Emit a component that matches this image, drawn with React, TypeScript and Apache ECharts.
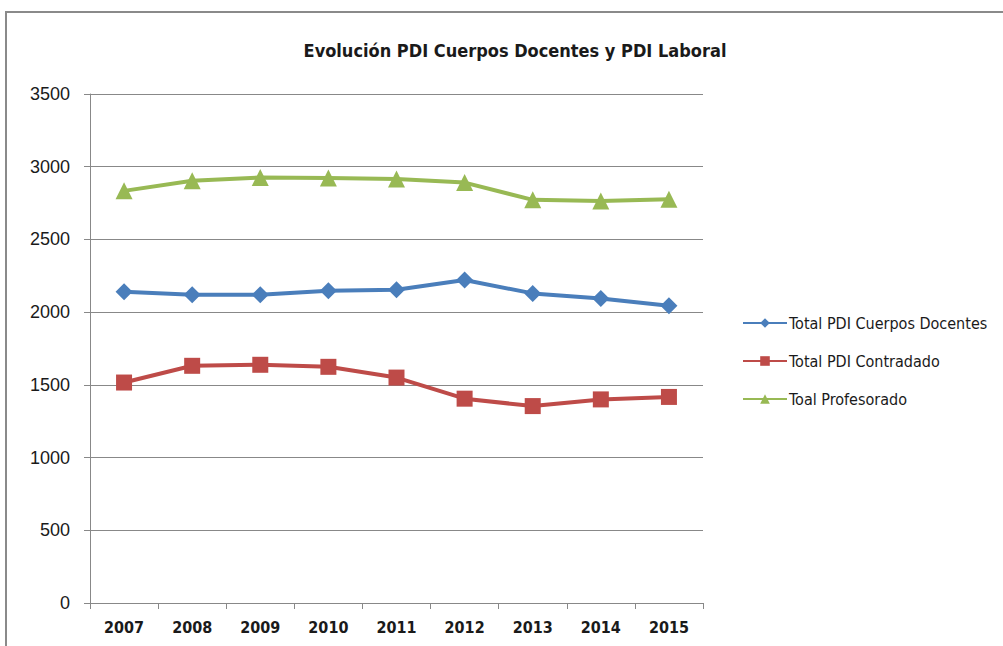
import React, { useEffect, useRef } from "react";
import * as echarts from "echarts";

const years = ["2007", "2008", "2009", "2010", "2011", "2012", "2013", "2014", "2015"];
const cuerposDocentes = [2140, 2120, 2120, 2147, 2154, 2221, 2129, 2094, 2044];
const contratado = [1516, 1631, 1638, 1624, 1550, 1405, 1354, 1400, 1417];
const profesorado = [2834, 2903, 2926, 2922, 2915, 2891, 2772, 2765, 2777];
const yTicks = { min: 0, max: 3500, interval: 500 };

export default function App() {
  const ref = useRef<HTMLDivElement>(null);
  useEffect(() => {
    if (!ref.current) return;
    const chart = echarts.init(ref.current, null, { renderer: "svg" });
    const font = "'Liberation Sans Narrow', 'DejaVu Sans Condensed', 'Liberation Sans', sans-serif";
    chart.setOption({
      animation: false,
      backgroundColor: "#ffffff",
      title: {
        text: "Evolución PDI Cuerpos Docentes y PDI Laboral",
        left: 510,
        textAlign: "center",
        top: 36,
        textStyle: { fontFamily: font, fontSize: 18, fontWeight: "bold", color: "#1a1a1a" },
      },
      graphic: [
        {
          type: "rect",
          shape: { x: 6, y: 12, width: 1100, height: 800 },
          style: { fill: "none", stroke: "#8a8a8a", lineWidth: 2 },
          silent: true,
        },
      ],
      grid: { left: 90, top: 94, width: 613, height: 509 },
      legend: {
        orient: "vertical",
        left: 737,
        top: 310,
        itemWidth: 44,
        itemHeight: 12,
        itemGap: 22,
        textStyle: { fontFamily: font, fontSize: 16, color: "#1a1a1a", padding: [0, 0, 0, -3] },
        data: ["Total PDI Cuerpos Docentes", "Total PDI Contradado", "Toal Profesorado"],
      },
      xAxis: {
        type: "category",
        data: years,
        boundaryGap: true,
        axisLine: { lineStyle: { color: "#888888", width: 1 } },
        axisTick: { show: true, length: 6, lineStyle: { color: "#888888" } },
        axisLabel: { fontFamily: font, fontSize: 16, fontWeight: "bold", color: "#1a1a1a", margin: 16 },
      },
      yAxis: {
        type: "value",
        min: yTicks.min,
        max: yTicks.max,
        interval: yTicks.interval,
        axisLine: { show: true, lineStyle: { color: "#888888", width: 1 } },
        axisTick: { show: true, length: 6, lineStyle: { color: "#888888" } },
        splitLine: { lineStyle: { color: "#888888", width: 1 } },
        axisLabel: {
          fontFamily: "'Liberation Sans', sans-serif",
          fontSize: 18,
          color: "#1a1a1a",
          margin: 20,
          formatter: (v: number) => String(v),
        },
      },
      series: [
        {
          name: "Total PDI Cuerpos Docentes",
          type: "line",
          data: cuerposDocentes,
          symbol: "diamond",
          symbolSize: 17,
          itemStyle: { color: "#4a7ebb" },
          lineStyle: { color: "#4a7ebb", width: 4 },
        },
        {
          name: "Total PDI Contradado",
          type: "line",
          data: contratado,
          symbol: "rect",
          symbolSize: 16,
          itemStyle: { color: "#be4b48" },
          lineStyle: { color: "#be4b48", width: 4 },
        },
        {
          name: "Toal Profesorado",
          type: "line",
          data: profesorado,
          symbol: "triangle",
          symbolSize: 17,
          itemStyle: { color: "#98b954" },
          lineStyle: { color: "#98b954", width: 4 },
        },
      ],
    });
    return () => chart.dispose();
  }, []);
  return (
    <div
      ref={ref}
      style={{ position: "absolute", left: 0, top: 0, width: 1003, height: 646 }}
    />
  );
}
